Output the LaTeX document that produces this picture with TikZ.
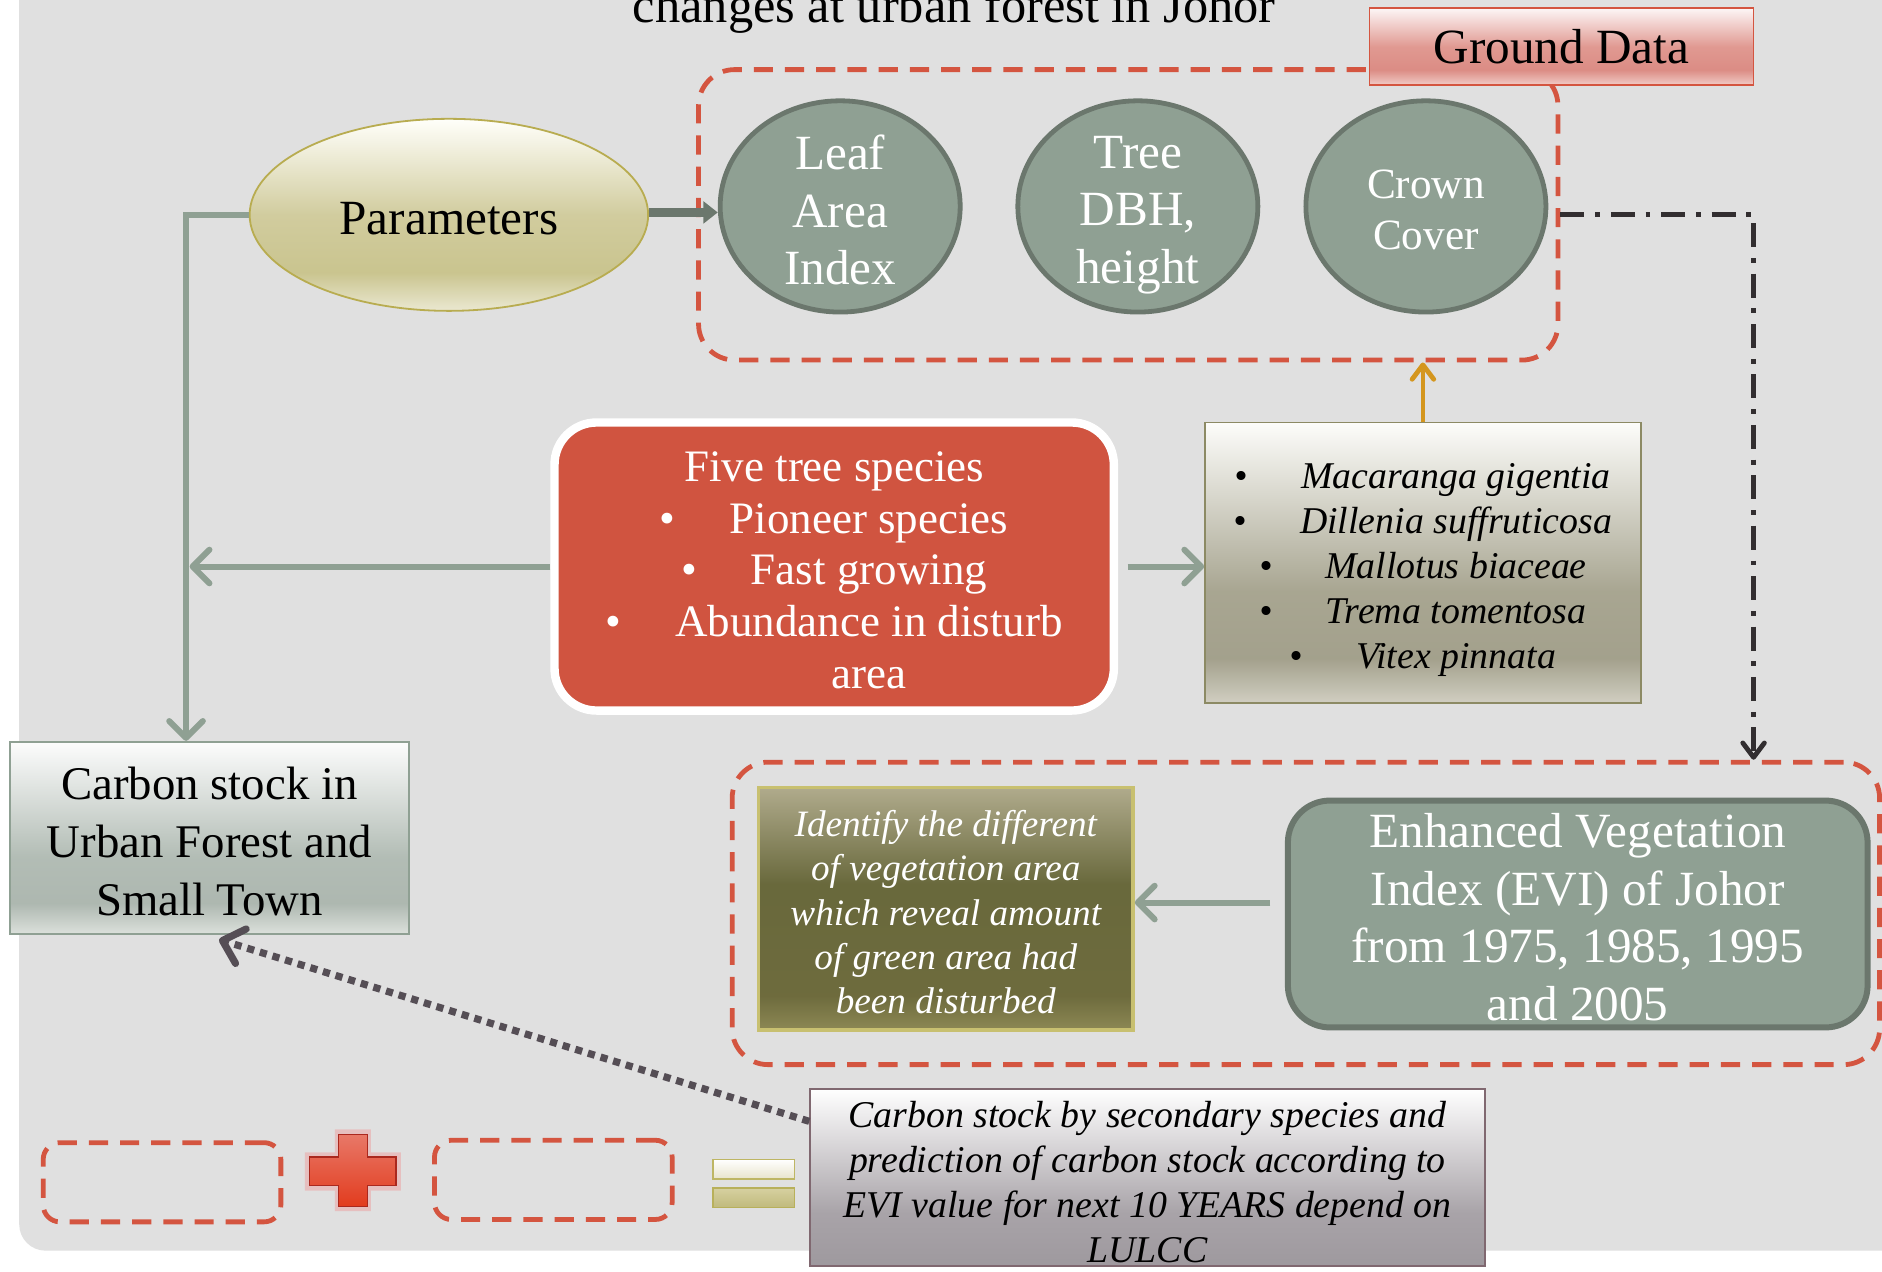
\documentclass[tikz,border=0pt]{standalone}
\usepackage{fontspec}
\setmainfont{Liberation Serif}
\usetikzlibrary{shapes.geometric,arrows.meta,calc}
\newcommand{\myfs}[2]{\fontsize{#1}{#2}\selectfont}
\definecolor{bggray}{RGB}{224,224,224}
\definecolor{ellfill}{RGB}{143,160,147}
\definecolor{ellborder}{RGB}{107,119,109}
\definecolor{lineg}{RGB}{143,160,147}
\definecolor{reddash}{RGB}{212,85,64}
\definecolor{fivefill}{RGB}{208,84,64}
\definecolor{orangeln}{RGB}{212,150,30}
\definecolor{dotgray}{RGB}{85,78,85}
\definecolor{ddark}{RGB}{50,46,48}
% custom vertical shadings (25bp = bottom edge, 75bp = top edge)
\pgfdeclareverticalshading{identsh}{100bp}{rgb(0bp)=(0.55,0.533,0.33); rgb(25bp)=(0.55,0.533,0.33); rgb(32bp)=(0.43,0.42,0.24); rgb(55bp)=(0.41,0.41,0.235); rgb(75bp)=(0.69,0.67,0.55); rgb(100bp)=(0.69,0.67,0.55)}
\pgfdeclareverticalshading{groundsh}{100bp}{rgb(0bp)=(0.95,0.80,0.78); rgb(25bp)=(0.95,0.80,0.78); rgb(35bp)=(0.86,0.55,0.52); rgb(50bp)=(0.88,0.60,0.57); rgb(75bp)=(0.99,0.96,0.96); rgb(100bp)=(0.99,0.96,0.96)}
\pgfdeclareverticalshading{speciessh}{100bp}{rgb(0bp)=(0.82,0.81,0.76); rgb(25bp)=(0.82,0.81,0.76); rgb(33bp)=(0.64,0.63,0.55); rgb(45bp)=(0.66,0.65,0.57); rgb(75bp)=(0.99,0.99,0.98); rgb(100bp)=(0.99,0.99,0.98)}
\pgfdeclareverticalshading{carbonsh}{100bp}{rgb(0bp)=(0.86,0.88,0.86); rgb(25bp)=(0.86,0.88,0.86); rgb(33bp)=(0.68,0.72,0.69); rgb(45bp)=(0.70,0.74,0.71); rgb(75bp)=(0.99,0.99,0.99); rgb(100bp)=(0.99,0.99,0.99)}
\pgfdeclareverticalshading{resultsh}{100bp}{rgb(0bp)=(0.62,0.60,0.62); rgb(25bp)=(0.62,0.60,0.62); rgb(40bp)=(0.66,0.64,0.66); rgb(75bp)=(1,1,1); rgb(100bp)=(1,1,1)}
\pgfdeclareverticalshading{paramsh}{100bp}{rgb(0bp)=(0.92,0.91,0.82); rgb(25bp)=(0.92,0.91,0.82); rgb(35bp)=(0.79,0.77,0.56); rgb(50bp)=(0.82,0.80,0.62); rgb(75bp)=(1,1,0.98); rgb(100bp)=(1,1,0.98)}
\begin{document}
\begin{tikzpicture}[x=1pt,y=-1pt,
  grp/.style={rectangle,draw=reddash,line width=4pt,dash pattern=on 16pt off 10pt,rounded corners=30pt,inner sep=0pt},
  smallgrp/.style={grp,rounded corners=14pt},
  ellg/.style={ellipse,draw=ellborder,line width=4pt,fill=ellfill,inner sep=0pt,minimum width=200pt,minimum height=176pt},
  boxtxt/.style={align=center,inner sep=0pt},
  garrow/.style={draw=lineg,line width=5pt,-{Straight Barb[length=14pt,width=28pt,round]}}
]
\useasboundingbox (0,0) rectangle (1568,1059);
\fill[white] (0,0) rectangle (1568,1059);
\fill[bggray,rounded corners=22pt] (16,-40) rectangle (1620,1042);

% title
\node[anchor=base,font=\myfs{42}{48}] (title) at (795,19) {changes at urban forest in Johor};

% group boxes
\node[grp,minimum width=716pt,minimum height=242pt] (topgrp) at (940,179) {};
\node[grp,minimum width=956pt,minimum height=252pt] (botgrp) at (1088,761) {};
\node[smallgrp,minimum width=198pt,minimum height=66pt] (sb1) at (135,985) {};
\node[smallgrp,minimum width=198pt,minimum height=66pt] (sb2) at (461,983) {};

% ground data
\node[rectangle,draw=reddash,line width=1.5pt,shading=groundsh,minimum width=320pt,minimum height=64pt,boxtxt,font=\myfs{41}{48}] (ground) at (1301,39) {Ground Data};

% parameters
\node[ellipse,draw={rgb,255:red,184;green,172;blue,80},line width=1.5pt,shading=paramsh,minimum width=332pt,minimum height=160pt,inner sep=0pt,font=\myfs{41}{48}] (param) at (374,179) {};
\node[boxtxt,font=\myfs{41}{48}] (paramt) at (374,182) {Parameters};

% ellipses
\node[ellg] (lai) at (700,172) {};
\node[boxtxt,text=white,font=\myfs{41}{48}] (lait) at (700,175) {Leaf\\Area\\Index};
\node[ellg] (dbh) at (948,172) {};
\node[boxtxt,text=white,font=\myfs{41}{48}] (dbht) at (948,179) {Tree\\DBH,\\height};
\node[ellg] (crown) at (1188,172) {};
\node[boxtxt,text=white,font=\myfs{36}{43}] (crownt) at (1188,175) {Crown\\Cover};

% five tree species
\node[rectangle,rounded corners=35pt,draw=white,line width=7pt,fill=fivefill,minimum width=466pt,minimum height=240pt,inner sep=0pt] (five) at (695,472) {};
\node[boxtxt,text=white,font=\myfs{37.5}{43}] (fivet) at (695,475)
 {Five tree species\\
  \textbullet\hspace{1.2em}Pioneer species\\
  \textbullet\hspace{1.2em}Fast growing\\
  \textbullet\hspace{1.2em}Abundance in disturb\\
  \hphantom{\textbullet\hspace{1.2em}}area};

% species list
\node[rectangle,draw={rgb,255:red,140;green,138;blue,100},line width=1.5pt,shading=speciessh,minimum width=363pt,minimum height=234pt,inner sep=0pt] (species) at (1185.5,469) {};
\node[boxtxt,font=\myfs{31.5}{37.5}\itshape] (speciest) at (1185.5,475)
 {\textbullet\hspace{1.4em}Macaranga gigentia\\
  \textbullet\hspace{1.4em}Dillenia suffruticosa\\
  \textbullet\hspace{1.4em}Mallotus biaceae\\
  \textbullet\hspace{1.4em}Trema tomentosa\\
  \textbullet\hspace{1.4em}Vitex pinnata};

% carbon stock
\node[rectangle,draw=lineg,line width=1.5pt,shading=carbonsh,minimum width=333pt,minimum height=160pt,inner sep=0pt] (carbon) at (174.5,698) {};
\node[boxtxt,font=\myfs{39}{48}] (carbont) at (174.5,701) {Carbon stock in\\Urban Forest and\\Small Town};

% identify
\node[rectangle,draw={rgb,255:red,200;green,192;blue,112},line width=3pt,shading=identsh,minimum width=312pt,minimum height=202pt,inner sep=0pt] (ident) at (788,757) {};
\node[boxtxt,text=white,font=\myfs{31}{37}\itshape] (identt) at (788,760)
 {Identify the different\\of vegetation area\\which reveal amount\\of green area had\\been disturbed};

% EVI
\node[rectangle,rounded corners=35pt,draw=ellborder,line width=5pt,fill=ellfill,minimum width=483pt,minimum height=189pt,inner sep=0pt] (evi) at (1314.5,761.5) {};
\node[boxtxt,text=white,font=\myfs{41}{48}] (evit) at (1314.5,764)
 {Enhanced Vegetation\\Index (EVI) of Johor\\from 1975, 1985, 1995\\and 2005};

% bottom result box
\node[rectangle,draw={rgb,255:red,128;green,104;blue,112},line width=1.5pt,shading=resultsh,minimum width=562pt,minimum height=148pt,inner sep=0pt] (result) at (956,981) {};
\node[boxtxt,font=\myfs{31.5}{37.5}\itshape] (resultt) at (956,984.5)
 {Carbon stock by secondary species and\\prediction of carbon stock according to\\EVI value for next 10 YEARS depend on\\LULCC};

% plus sign
\fill[red!70,opacity=0.22] (279,941) -- (309,941) -- (309,960) -- (334,960) -- (334,992) -- (309,992) -- (309,1009) -- (279,1009) -- (279,992) -- (254,992) -- (254,960) -- (279,960) -- cycle;
\shade[top color={rgb,255:red,232;green,120;blue,104},middle color={rgb,255:red,176;green,52;blue,36},bottom color={rgb,255:red,226;green,60;blue,30},draw={rgb,255:red,170;green,40;blue,30},line width=1pt]
 (282,945) -- (306,945) -- (306,964) -- (330,964) -- (330,988) -- (306,988) -- (306,1005) -- (282,1005) -- (282,988) -- (258,988) -- (258,964) -- (282,964) -- cycle;

% equals sign
\shade[top color=white,bottom color={rgb,255:red,232;green,228;blue,204},draw={rgb,255:red,190;green,182;blue,100},line width=1.5pt] (594,966) rectangle (662,982);
\shade[top color={rgb,255:red,214;green,208;blue,160},bottom color={rgb,255:red,192;green,186;blue,124},draw={rgb,255:red,184;green,176;blue,90},line width=1.5pt] (594,990) rectangle (662,1006);

% connectors
\coordinate (vx) at (155,0);
\coordinate (ddx) at (1461,0);
\coordinate (pary) at (0,177);
\coordinate (eviy) at (0,752);
\draw[draw=ellborder,line width=8pt,-{Triangle[length=12pt,width=18pt]}] (param.east |- pary) -- (lai.west |- pary);
\draw[garrow] (param.west) -| (vx |- carbon.north);
\draw[garrow] (five.west) -- ([xshift=3pt]vx |- five.west);
\draw[garrow] ([xshift=8pt]five.east) -- (species.west |- five.east);
\draw[draw=orangeln,line width=4pt,-{Straight Barb[length=12pt,width=18pt,round]}] (species.north) -- (species.north |- topgrp.south);
\draw[draw=ddark,line width=4pt,dash pattern=on 20pt off 9pt on 4pt off 9pt,-{Straight Barb[length=12pt,width=18pt,round]}] (topgrp.east) -| (ddx |- botgrp.north);
\draw[garrow,shorten <=12pt] (evi.west |- eviy) -- (ident.east |- eviy);
\draw[draw=dotgray,line width=6pt,dash pattern=on 6pt off 5pt,-{Straight Barb[length=16pt,width=30pt,round]}] ([yshift=-28pt]result.north west) -- ([xshift=8pt,yshift=-4pt]carbon.south);
\end{tikzpicture}
\end{document}
